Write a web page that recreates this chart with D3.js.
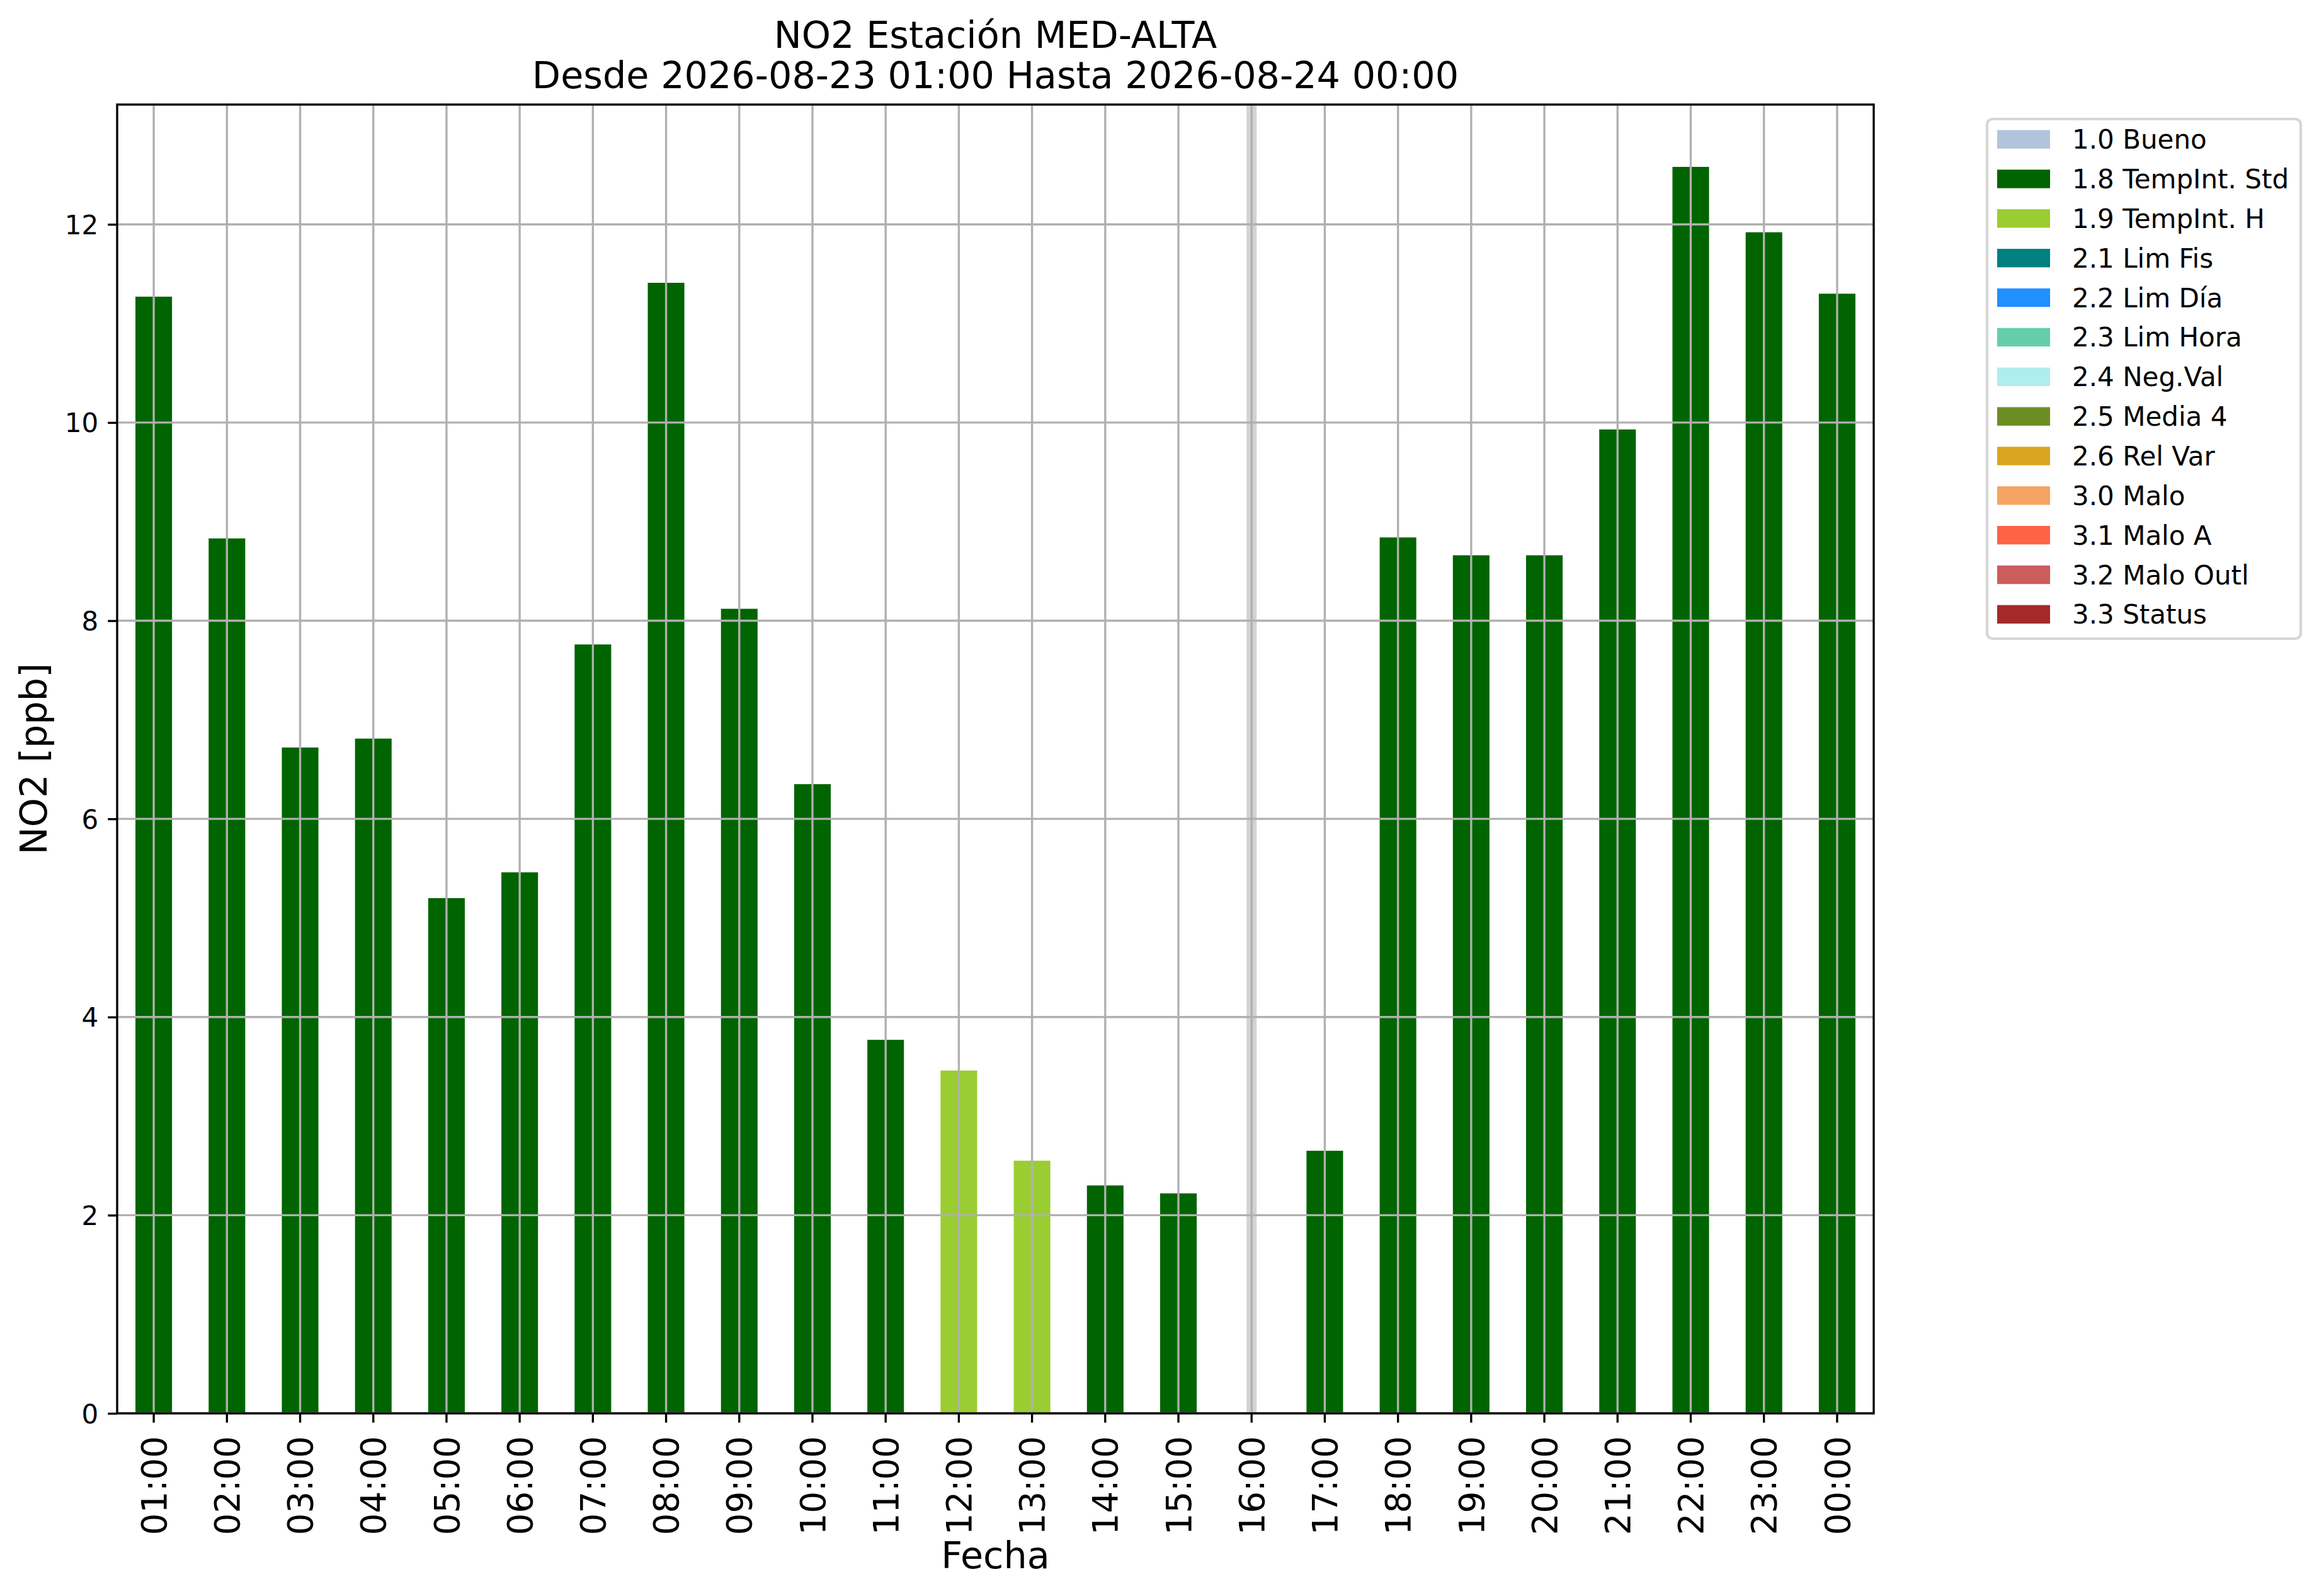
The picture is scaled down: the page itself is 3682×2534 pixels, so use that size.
<!DOCTYPE html>
<html>
<head>
<meta charset="utf-8">
<script src="https://cdn.jsdelivr.net/npm/d3@7/dist/d3.min.js"></script>
<style>
  html, body { margin: 0; padding: 0; background: #ffffff; }
  text { font-family: "DejaVu Sans", sans-serif; fill: #000; }
</style>
</head>
<body>
<svg id="chart" width="3682" height="2534"></svg>
<script>
// ---------------- data ----------------
const hours = ["01:00","02:00","03:00","04:00","05:00","06:00","07:00","08:00","09:00","10:00","11:00","12:00",
               "13:00","14:00","15:00","16:00","17:00","18:00","19:00","20:00","21:00","22:00","23:00","00:00"];
const no2Values = [11.27, 8.83, 6.72, 6.81, 5.20, 5.46, 7.76, 11.41, 8.12, 6.35, 3.77, 3.46,
                   2.55, 2.30, 2.22, null, 2.65, 8.84, 8.66, 8.66, 9.93, 12.58, 11.92, 11.30];
const flagCodes = ["1.8","1.8","1.8","1.8","1.8","1.8","1.8","1.8","1.8","1.8","1.8","1.9",
                   "1.9","1.8","1.8", null,"1.8","1.8","1.8","1.8","1.8","1.8","1.8","1.8"];
const missingHours = ["16:00"];
const legendCodes  = ["1.0","1.8","1.9","2.1","2.2","2.3","2.4","2.5","2.6","3.0","3.1","3.2","3.3"];
const legendLabels = ["1.0 Bueno","1.8 TempInt. Std","1.9 TempInt. H","2.1 Lim Fis","2.2 Lim Día","2.3 Lim Hora",
                      "2.4 Neg.Val","2.5 Media 4","2.6 Rel Var","3.0 Malo","3.1 Malo A","3.2 Malo Outl","3.3 Status"];
const legendColors = ["#b0c4de","#006400","#9acd32","#008080","#1e90ff","#66cdaa",
                      "#afeeee","#6b8e23","#daa520","#f4a460","#ff6347","#cd5c5c","#a52a2a"];
const yTicks = [0, 2, 4, 6, 8, 10, 12];
const titleLines = ["NO2 Estación MED-ALTA", "Desde 2026-08-23 01:00 Hasta 2026-08-24 00:00"];
const xLabel = "Fecha";
const yLabel = "NO2 [ppb]";

// ---------------- layout ----------------
const W = 3682, H = 2534;
const plot = { left: 186, right: 2975, top: 166, bottom: 2244 };
const lw = 3.36;          // 0.8pt line width
const tickLen = 14.7;     // 3.5pt
const gridColor = "#b0b0b0";

const svg = d3.select("#chart");
svg.append("rect").attr("width", W).attr("height", H).attr("fill", "#fff");

const colorOf = d3.scaleOrdinal().domain(legendCodes).range(legendColors);

const x = d3.scaleBand().domain(hours)
  .range([plot.left, plot.right]).paddingInner(0.5).paddingOuter(0.25);
const yMax = d3.max(no2Values) * 1.05;
const y = d3.scaleLinear().domain([0, yMax]).range([plot.bottom, plot.top]);
const center = h => x(h) + x.bandwidth() / 2;

const gPlot = svg.append("g");

// missing-data marker
const bandW = 16;
gPlot.selectAll("rect.missing").data(missingHours).enter().append("rect")
  .attr("class", "missing")
  .attr("x", d => center(d) - bandW / 2)
  .attr("width", bandW)
  .attr("y", plot.top)
  .attr("height", plot.bottom - plot.top)
  .attr("fill", "#d3d3d3");

// bars
const barData = hours.map((h, i) => ({ h, v: no2Values[i], f: flagCodes[i] })).filter(d => d.v != null);
gPlot.selectAll("rect.bar").data(barData).enter().append("rect")
  .attr("class", "bar")
  .attr("x", d => x(d.h))
  .attr("width", x.bandwidth())
  .attr("y", d => y(d.v))
  .attr("height", d => y(0) - y(d.v))
  .attr("fill", d => colorOf(d.f));

// grid (drawn over bars)
const gGrid = svg.append("g");
gGrid.selectAll("line.vg").data(hours).enter().append("line")
  .attr("x1", d => center(d)).attr("x2", d => center(d))
  .attr("y1", plot.top).attr("y2", plot.bottom)
  .attr("stroke", gridColor).attr("stroke-width", lw);
gGrid.selectAll("line.hg").data(yTicks).enter().append("line")
  .attr("x1", plot.left).attr("x2", plot.right)
  .attr("y1", d => y(d)).attr("y2", d => y(d))
  .attr("stroke", gridColor).attr("stroke-width", lw);

// axes
const yAxis = d3.axisLeft(y).tickValues(yTicks).tickFormat(d3.format("d"))
  .tickSize(tickLen).tickPadding(15);
const gy = svg.append("g").attr("transform", `translate(${plot.left},0)`).call(yAxis);
gy.select(".domain").remove();
gy.selectAll(".tick line").attr("stroke", "#000").attr("stroke-width", lw);
gy.selectAll(".tick text").attr("font-size", 42).attr("font-family", "DejaVu Sans").attr("dy", "0.36em");

const xAxis = d3.axisBottom(x).tickSize(tickLen);
const gx = svg.append("g").attr("transform", `translate(0,${plot.bottom})`).call(xAxis);
gx.select(".domain").remove();
gx.selectAll(".tick line").attr("stroke", "#000").attr("stroke-width", lw);
gx.selectAll(".tick text")
  .attr("font-size", 54.6).attr("font-family", "DejaVu Sans")
  .attr("transform", "rotate(-90)")
  .attr("text-anchor", "end")
  .attr("x", -36).attr("y", 0).attr("dy", "0.36em");

// spines
svg.append("rect")
  .attr("x", plot.left).attr("y", plot.top)
  .attr("width", plot.right - plot.left).attr("height", plot.bottom - plot.top)
  .attr("fill", "none").attr("stroke", "#000").attr("stroke-width", lw);

// title
const cx = (plot.left + plot.right) / 2;
svg.append("g").selectAll("text").data(titleLines).enter().append("text")
  .attr("x", cx).attr("y", (d, i) => i === 0 ? 76 : 139.5)
  .attr("text-anchor", "middle").attr("font-size", 58.8)
  .text(d => d);

// axis labels
svg.append("text").attr("x", cx).attr("y", 2490)
  .attr("text-anchor", "middle").attr("font-size", 58.8).text(xLabel);
svg.append("text")
  .attr("transform", `translate(74,${(plot.top + plot.bottom) / 2}) rotate(-90)`)
  .attr("text-anchor", "middle").attr("font-size", 58.8).text(yLabel);

// legend
const leg = { left: 3155, top: 189, width: 498, height: 825, row: 62.85, first: 221.2 };
const gL = svg.append("g");
gL.append("rect")
  .attr("x", leg.left).attr("y", leg.top).attr("width", leg.width).attr("height", leg.height)
  .attr("rx", 8.4).attr("ry", 8.4)
  .attr("fill", "#ffffff").attr("fill-opacity", 0.8)
  .attr("stroke", "#cccccc").attr("stroke-opacity", 0.8).attr("stroke-width", 4.2);
const items = gL.selectAll("g.item").data(legendLabels).enter().append("g")
  .attr("transform", (d, i) => `translate(0,${leg.first + i * leg.row})`);
items.append("rect")
  .attr("x", 3171).attr("y", -14.7).attr("width", 84).attr("height", 29.4)
  .attr("fill", (d, i) => colorOf(legendCodes[i]));
items.append("text")
  .attr("x", 3290).attr("y", 15).attr("font-size", 42)
  .text(d => d);
</script>
</body>
</html>
